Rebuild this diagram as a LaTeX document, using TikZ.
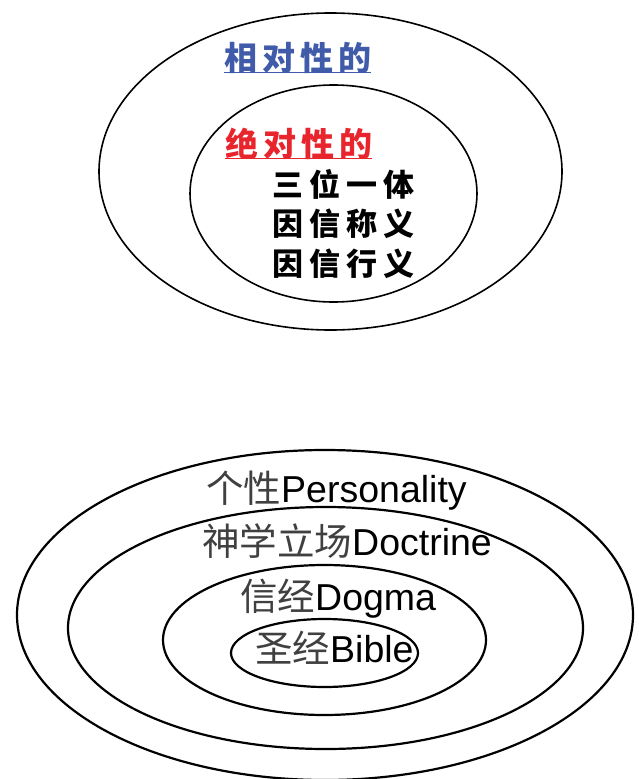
\documentclass[tikz,border=0pt]{standalone}
\usepackage{fontspec}
\usetikzlibrary{shapes.geometric}
\setmainfont{Liberation Sans}
\newfontfamily\cjk{Noto Sans CJK SC}
\definecolor{relblue}{HTML}{3F5BA9}
\definecolor{absred}{HTML}{E8242C}
\newcommand\gap{\hspace{5pt}}
\newcommand\igap{\hspace{6pt}}
\begin{document}
\begin{tikzpicture}[x=1pt,y=-1pt,
  ring/.style={draw=black, ellipse, inner sep=0pt, line width=#1},
  ring/.default=1.6pt,
  head/.style={anchor=base west, inner sep=0pt, font=\cjk\bfseries\fontsize{33}{35}\selectfont},
  item/.style={anchor=base west, inner sep=0pt, font=\cjk\fontsize{31}{33}\selectfont},
  layer/.style={anchor=base west, inner sep=0pt, font=\fontsize{37.5}{40}\selectfont}]
\useasboundingbox (0,0) rectangle (639,779);
% top diagram
\node[ring, minimum width=463pt, minimum height=317pt] (relring) at (330.5,171.5) {};
\node[ring, minimum width=287pt, minimum height=217pt] (absring) at (333.5,193.5) {};
\node[head, text=relblue] (rel) at (224,70) {相\gap 对\gap 性\gap 的};
\draw[relblue, line width=1.5pt] ([yshift=-2.5pt]rel.base west) -- ([yshift=-2.5pt]rel.base east);
\node[head, text=absred] (abs) at (225,156) {绝\gap 对\gap 性\gap 的};
\draw[absred, line width=1.5pt] ([yshift=-2.5pt]abs.base west) -- ([yshift=-2.5pt]abs.base east);
\node[item] (t1) at (272,196) {\textbf{三}\igap\textbf{位}\igap\textbf{一}\igap\textbf{体}};
\node[item] (t2) at (272,235) {\textbf{因}\igap\textbf{信}\igap\textbf{称}\igap\textbf{义}};
\node[item] (t3) at (272,275) {\textbf{因}\igap\textbf{信}\igap\textbf{行}\igap\textbf{义}};
% bottom diagram
\node[ring=2.2pt, minimum width=616pt, minimum height=330pt] (pers) at (325,615) {};
\node[ring=2.2pt, minimum width=515pt, minimum height=242pt] (doct) at (325.5,628) {};
\node[ring=2.2pt, minimum width=323pt, minimum height=150pt] (dogm) at (324.5,640) {};
\node[ring=2.2pt, minimum width=187pt, minimum height=68pt] (bibl) at (324.5,653) {};
\node[layer] (lpers) at (206,502) {{\cjk\color{black!75}个性}Personality};
\node[layer] (ldoct) at (202,555) {{\cjk\color{black!75}神学立场}Doctrine};
\node[layer] (ldogm) at (240,610) {{\cjk\color{black!75}信经}Dogma};
\node[layer] (lbibl) at (255,662) {{\cjk\color{black!75}圣经}Bible};
\end{tikzpicture}
\end{document}
